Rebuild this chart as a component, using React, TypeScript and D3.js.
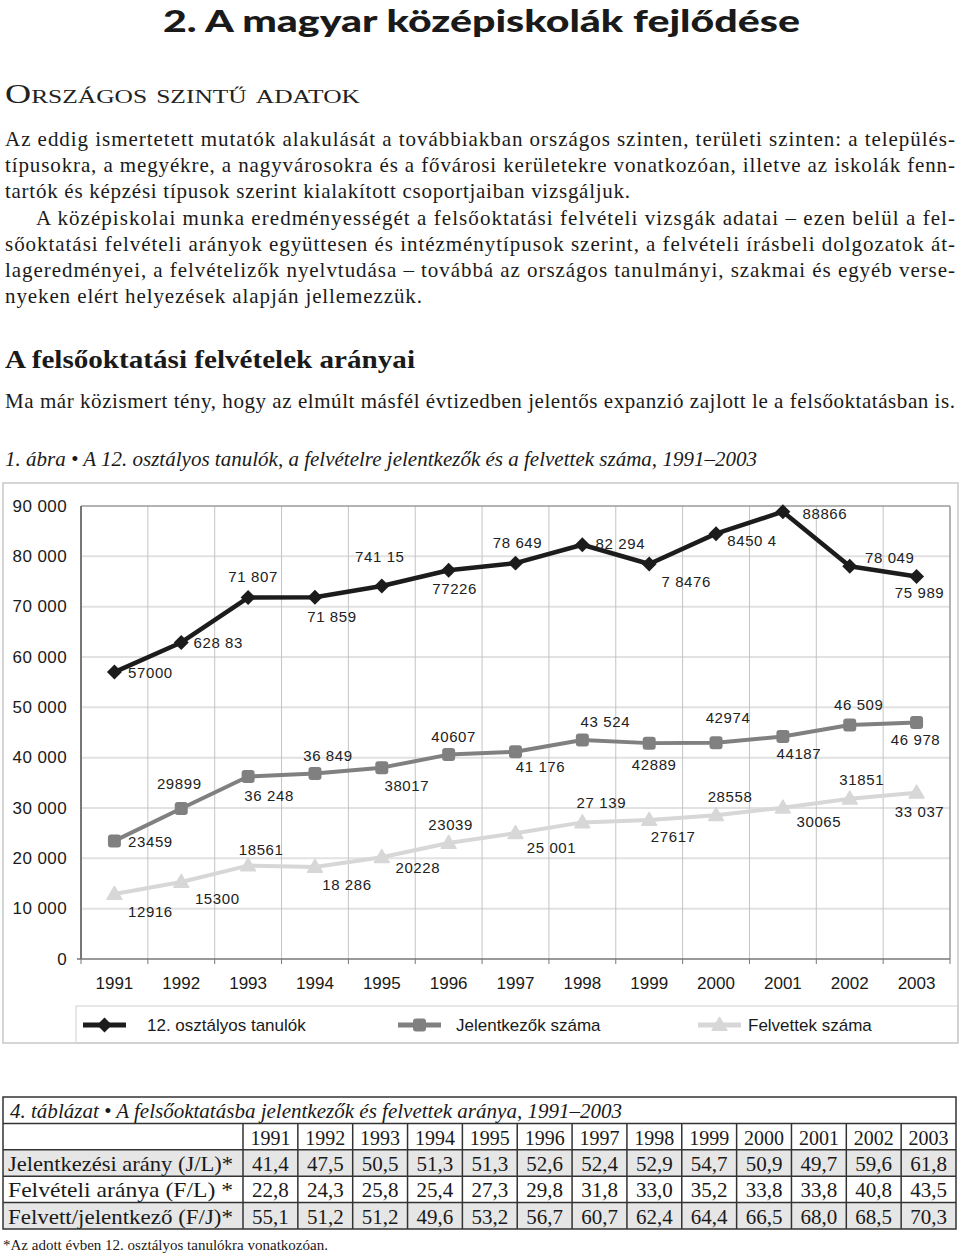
import React from "react";
import * as d3 from "d3";

// chart data, 1991-2003
const years = ["1991", "1992", "1993", "1994", "1995", "1996", "1997", "1998", "1999", "2000", "2001", "2002", "2003"];
const students = [57000, 62883, 71807, 71859, 74115, 77226, 78649, 82294, 78476, 84504, 88866, 78049, 75989];
const applicants = [23459, 29899, 36248, 36849, 38017, 40607, 41176, 43524, 42889, 42974, 44187, 46509, 46978];
const admitted = [12916, 15300, 18561, 18286, 20228, 23039, 25001, 27139, 27617, 28558, 30065, 31851, 33037];

// labels as printed in the figure
const studentLabels = ["57000", "628 83", "71 807", "71 859", "741 15", "77226", "78 649", "82 294", "7 8476", "8450 4", "88866", "78 049", "75 989"];
const applicantLabels = ["23459", "29899", "36 248", "36 849", "38017", "40607", "41 176", "43 524", "42889", "42974", "44187", "46 509", "46 978"];
const admittedLabels = ["12916", "15300", "18561", "18 286", "20228", "23039", "25 001", "27 139", "27617", "28558", "30065", "31851", "33 037"];

const yTicks = [0, 10000, 20000, 30000, 40000, 50000, 60000, 70000, 80000, 90000];
const yTickLabels = ["0", "10 000", "20 000", "30 000", "40 000", "50 000", "60 000", "70 000", "80 000", "90 000"];
const seriesNames = ["12. osztályos tanulók", "Jelentkezők száma", "Felvettek száma"];

// table data
const rowNames = ["Jelentkezési arány (J/L)*", "Felvételi aránya (F/L) *", "Felvett/jelentkező (F/J)*"];
const applyRate = [41.4, 47.5, 50.5, 51.3, 51.3, 52.6, 52.4, 52.9, 54.7, 50.9, 49.7, 59.6, 61.8];
const admitRate = [22.8, 24.3, 25.8, 25.4, 27.3, 29.8, 31.8, 33.0, 35.2, 33.8, 33.8, 40.8, 43.5];
const admittedPerApplicant = [55.1, 51.2, 51.2, 49.6, 53.2, 56.7, 60.7, 62.4, 64.4, 66.5, 68.0, 68.5, 70.3];

// label placement relative to each point (layout only)
const studentOffsets = [[36, 0], [37, 0], [5, -21], [17, 19], [-2, -29], [6, 18], [2, -21], [38, -1], [37, 17], [36, 7], [42, 2], [40, -9], [3, 16]];
const applicantOffsets = [[36, 1], [-2, -25], [21, 19], [13, -18], [25, 18], [5, -18], [25, 15], [23, -18], [5, 21], [12, -25], [16, 17], [9, -20], [-1, 17]];
const admittedOffsets = [[36, 18], [36, 17], [13, -16], [32, 18], [36, 10], [2, -19], [36, 14], [19, -20], [24, 17], [14, -19], [36, 14], [12, -19], [3, 19]];

const para = [
    { text: "Az eddig ismertetett mutatók alakulását a továbbiakban országos szinten, területi szinten: a település-", x: 5, w: 950 },
    { text: "típusokra, a megyékre, a nagyvárosokra és a fővárosi kerületekre vonatkozóan, illetve az iskolák fenn-", x: 5, w: 950 },
    { text: "tartók és képzési típusok szerint kialakított csoportjaiban vizsgáljuk.", x: 5, w: 625 },
    { text: "A középiskolai munka eredményességét a felsőoktatási felvételi vizsgák adatai – ezen belül a fel-", x: 36, w: 919 },
    { text: "sőoktatási felvételi arányok együttesen és intézménytípusok szerint, a felvételi írásbeli dolgozatok át-", x: 5, w: 950 },
    { text: "lageredményei, a felvételizők nyelvtudása – továbbá az országos tanulmányi, szakmai és egyéb verse-", x: 5, w: 950 },
    { text: "nyeken elért helyezések alapján jellemezzük.", x: 5, w: 417 },
];

const SERIF = "'Liberation Serif', 'Times New Roman', serif";
const SANS = "'Liberation Sans', Arial, sans-serif";

function Chart() {
    const left = 81, right = 950, top = 506, bottom = 959;
    const x = d3.scaleBand().domain(years).range([left, right]);
    const y = d3.scaleLinear().domain([0, 90000]).range([bottom, top]);
    const cx = (yr: string) => (x(yr) as number) + x.bandwidth() / 2;

    const line = d3.line<number>().x((_, i) => cx(years[i])).y(d => y(d));
    const diamond = d3.symbol(d3.symbolSquare, 112)();
    const triangle = d3.symbol(d3.symbolTriangle, 95)();

    const bounds = d3.range(0, years.length + 1).map(i => left + i * x.step());

    const series = [
        { values: students, labels: studentLabels, offsets: studentOffsets, color: "#1c1c1c", width: 4.5 },
        { values: applicants, labels: applicantLabels, offsets: applicantOffsets, color: "#808080", width: 4 },
        { values: admitted, labels: admittedLabels, offsets: admittedOffsets, color: "#d7d7d7", width: 4 },
    ];

    const marker = (k: number, color: string, px: number, py: number, key: any) => {
        if (k === 0) return <path key={key} d={diamond as string} transform={`translate(${px},${py}) rotate(45)`} fill={color} />;
        if (k === 1) return <rect key={key} x={px - 6.5} y={py - 6.5} width={13} height={13} rx={3} fill={color} />;
        return <path key={key} d={triangle as string} transform={`translate(${px},${py + 1})`} fill={color} stroke={color} strokeWidth={1.5} strokeLinejoin="round" />;
    };

    const legendItems = [
        { x: 83, tx: 147 },
        { x: 398, tx: 456 },
        { x: 698, tx: 748 },
    ];

    return (
        <g>
            <rect x={3} y={483} width={955} height={560} fill="#fff" stroke="#c8c8c8" strokeWidth={1.5} />
            {/* horizontal grid */}
            {yTicks.slice(1, -1).map(t => (
                <line key={t} x1={left} x2={right} y1={y(t)} y2={y(t)} stroke="#e2e2e2" strokeWidth={2} />
            ))}
            {/* vertical grid */}
            {bounds.slice(1, -1).map(b => (
                <line key={b} x1={b} x2={b} y1={top} y2={bottom} stroke="#c4c4c4" strokeWidth={1} />
            ))}
            <line x1={left} x2={right} y1={top} y2={top} stroke="#9a9a9a" strokeWidth={1.5} />
            <line x1={right} x2={right} y1={top} y2={bottom} stroke="#9a9a9a" strokeWidth={1.5} />
            <line x1={left} x2={left} y1={top} y2={bottom} stroke="#777" strokeWidth={2} />
            <line x1={77} x2={right} y1={bottom} y2={bottom} stroke="#777" strokeWidth={1.5} />
            {bounds.map(b => (
                <line key={"t" + b} x1={b} x2={b} y1={bottom} y2={bottom + 5} stroke="#777" strokeWidth={1} />
            ))}
            {yTicks.map((t, i) => (
                <text key={t} x={67} y={y(t)} textAnchor="end" dominantBaseline="central" fontFamily={SANS} fontSize={17} letterSpacing={0.4} fill="#1a1a1a">{yTickLabels[i]}</text>
            ))}
            {years.map(yr => (
                <text key={yr} x={cx(yr)} y={983} textAnchor="middle" dominantBaseline="central" fontFamily={SANS} fontSize={17} fill="#1a1a1a">{yr}</text>
            ))}
            {series.map((s, k) => (
                <g key={k}>
                    <path d={line(s.values) as string} fill="none" stroke={s.color} strokeWidth={s.width} strokeLinejoin="round" />
                    {s.values.map((v, i) => marker(k, s.color, cx(years[i]), y(v), i))}
                    {s.values.map((v, i) => (
                        <text key={"l" + i} x={cx(years[i]) + s.offsets[i][0]} y={y(v) + s.offsets[i][1]} textAnchor="middle" dominantBaseline="central" fontFamily={SANS} fontSize={15} letterSpacing={0.6} fill="#222">{s.labels[i]}</text>
                    ))}
                </g>
            ))}
            {/* legend */}
            <rect x={76} y={1006} width={882} height={37} fill="none" stroke="#cfcfcf" strokeWidth={1} />
            {legendItems.map((it, k) => (
                <g key={k}>
                    <line x1={it.x} x2={it.x + 43} y1={1025} y2={1025} stroke={series[k].color} strokeWidth={5} />
                    {marker(k, series[k].color, it.x + 21.5, 1025, "m")}
                    <text x={it.tx} y={1025} dominantBaseline="central" fontFamily={SANS} fontSize={17} fill="#1a1a1a">{seriesNames[k]}</text>
                </g>
            ))}
        </g>
    );
}

function Table() {
    const top = 1097, rowH = 26.4, x0 = 3, x1 = 243, x2 = 956;
    const colW = (x2 - x1) / years.length;
    const fmt = (v: number) => d3.format(".1f")(v).replace(".", ",");
    const rows = [applyRate, admitRate, admittedPerApplicant];
    return (
        <g fontFamily={SERIF} fill="#1a1a1a">
            {rows.map((_, r) => r !== 1 && (
                <rect key={r} x={x0} y={top + rowH * (r + 2)} width={x2 - x0} height={rowH} fill="#e6e6e6" />
            ))}
            <text x={10} y={top + rowH / 2 + 1} dominantBaseline="central" fontStyle="italic" fontSize={20} textLength={612} lengthAdjust="spacingAndGlyphs">
                4. táblázat • A felsőoktatásba jelentkezők és felvettek aránya, 1991–2003
            </text>
            {years.map((yr, i) => (
                <text key={yr} x={x1 + colW * (i + 0.5)} y={top + rowH * 1.5 + 1} textAnchor="middle" dominantBaseline="central" fontSize={20}>{yr}</text>
            ))}
            {rows.map((vals, r) => (
                <g key={r}>
                    <text x={8} y={top + rowH * (r + 2.5) + 1} dominantBaseline="central" fontSize={21} textLength={225} lengthAdjust="spacingAndGlyphs">{rowNames[r]}</text>
                    {vals.map((v, i) => (
                        <text key={i} x={x1 + colW * (i + 0.5)} y={top + rowH * (r + 2.5) + 1} textAnchor="middle" dominantBaseline="central" fontSize={21}>{fmt(v)}</text>
                    ))}
                </g>
            ))}
            {/* grid */}
            <g stroke="#333" strokeWidth={1.5} fill="none">
                <rect x={x0} y={top} width={x2 - x0} height={rowH * 5} />
                {d3.range(1, 5).map(r => (
                    <line key={r} x1={x0} x2={x2} y1={top + rowH * r} y2={top + rowH * r} />
                ))}
                {d3.range(0, years.length).map(i => (
                    <line key={i} x1={x1 + colW * i} x2={x1 + colW * i} y1={top + rowH} y2={top + rowH * 5} />
                ))}
            </g>
            <text x={3} y={1245} dominantBaseline="central" fontSize={15}>*Az adott évben 12. osztályos tanulókra vonatkozóan.</text>
        </g>
    );
}

export default function App() {
    return (
        <div style={{ position: "absolute", left: 0, top: 0 }}>
            <svg width={960} height={1253} style={{ display: "block", background: "#fff" }}>
                <text x={163} y={32} fontFamily="Lato, 'Liberation Sans', sans-serif" fontWeight={900} fontSize={30} fill="#1a1a1a" textLength={637} lengthAdjust="spacingAndGlyphs">
                    2. A magyar középiskolák fejlődése
                </text>
                <text x={5} y={103} fontFamily={SERIF} fontSize={27} fill="#222" style={{ fontVariant: "small-caps" }} textLength={355} lengthAdjust="spacingAndGlyphs">
                    Országos szintű adatok
                </text>
                {para.map((l, i) => (
                    <text key={i} x={l.x} y={146 + i * 26.2} fontFamily={SERIF} fontSize={21} fill="#1a1a1a" textLength={l.w} lengthAdjust="spacing">{l.text}</text>
                ))}
                <text x={5} y={368} fontFamily={SERIF} fontWeight="bold" fontSize={25} fill="#1a1a1a" textLength={410} lengthAdjust="spacingAndGlyphs">
                    A felsőoktatási felvételek arányai
                </text>
                <text x={5} y={408} fontFamily={SERIF} fontSize={21} fill="#1a1a1a" textLength={950} lengthAdjust="spacing">
                    Ma már közismert tény, hogy az elmúlt másfél évtizedben jelentős expanzió zajlott le a felsőoktatásban is.
                </text>
                <text x={5} y={466} fontFamily={SERIF} fontStyle="italic" fontSize={20} fill="#1a1a1a" textLength={752} lengthAdjust="spacingAndGlyphs">
                    1. ábra • A 12. osztályos tanulók, a felvételre jelentkezők és a felvettek száma, 1991–2003
                </text>
                <Chart />
                <Table />
            </svg>
        </div>
    );
}
